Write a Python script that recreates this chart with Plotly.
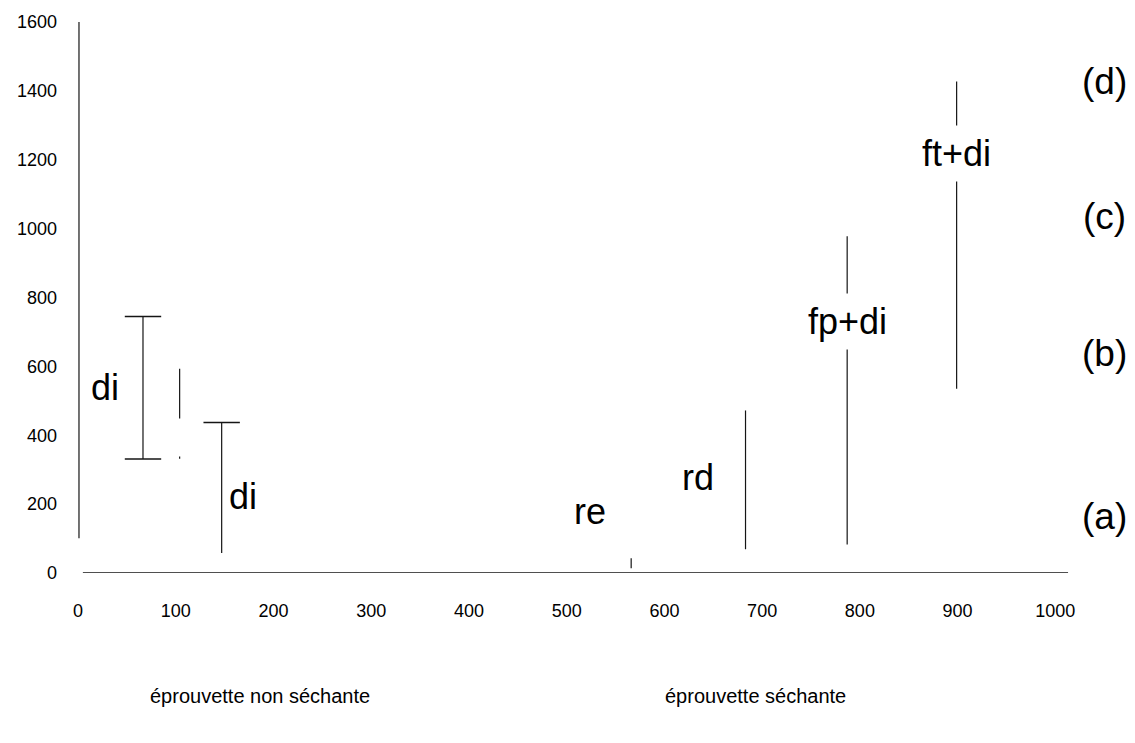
import plotly.graph_objects as go

# ---- data ----
seg_x = [1, 66.5, 104, 104, 147, 566, 683, 787, 899]
seg_low = [101, 331, 449, 332, 58, 14, 69, 83, 535]
seg_high = [1600, 745, 593, 338, 437, 43, 472, 978, 1427]

cap_x = [66.5, 66.5, 147]
cap_y = [745, 331, 437]

base_x = [5, 1013]
base_y = [0, 0]

label_text = ["di", "di", "re", "rd", "fp+di", "ft+di"]
label_x = [27.6, 169, 524, 634, 787, 899]
label_y = [538, 222, 178, 276, 729, 1217]
label_mask = [False, False, False, False, True, True]

mode_text = ["(a)", "(b)", "(c)", "(d)"]
mode_x = [1050, 1050, 1050, 1050]
mode_y = [164, 636, 1036, 1427]

group_text = ["éprouvette non séchante", "éprouvette séchante"]
group_x = [186, 693]
group_y = [-357, -357]

x_ticks = [0, 100, 200, 300, 400, 500, 600, 700, 800, 900, 1000]
y_ticks = [0, 200, 400, 600, 800, 1000, 1200, 1400, 1600]

X_RANGE = [0, 1015]
Y_RANGE = [0, 1600]

FONT = "Liberation Sans, Arial, Helvetica, sans-serif"
INK = "#151515"


def xp(v):
    return (v - X_RANGE[0]) / (X_RANGE[1] - X_RANGE[0])


def yp(v):
    return (v - Y_RANGE[0]) / (Y_RANGE[1] - Y_RANGE[0])


# build segment trace
xs, ys = [], []
for x, lo, hi in zip(seg_x, seg_low, seg_high):
    xs += [x, x, None]
    ys += [lo, hi, None]

fig = go.Figure()
fig.add_trace(go.Scatter(x=base_x, y=base_y, mode="lines",
                         line=dict(color=INK, width=1.3), hoverinfo="skip"))
fig.add_trace(go.Scatter(x=xs, y=ys, mode="lines",
                         line=dict(color=INK, width=1.2), hoverinfo="skip"))
fig.add_trace(go.Scatter(x=cap_x, y=cap_y, mode="markers",
                         marker=dict(symbol="line-ew", size=26,
                                     line=dict(color=INK, width=1.5)),
                         hoverinfo="skip"))

for t, x, y, m in zip(label_text, label_x, label_y, label_mask):
    fig.add_annotation(x=x, y=y, text=t, showarrow=False,
                       xanchor="center", yanchor="middle",
                       font=dict(family=FONT, size=36, color="#000"),
                       bgcolor="white" if m else "rgba(0,0,0,0)",
                       borderpad=7 if m else 0)

for t, x, y in zip(mode_text, mode_x, mode_y):
    fig.add_annotation(x=xp(x), y=yp(y), xref="paper", yref="paper",
                       xanchor="center", yanchor="middle",
                       text=t, showarrow=False,
                       font=dict(family=FONT, size=37, color="#000"))

for t, x, y in zip(group_text, group_x, group_y):
    fig.add_annotation(x=xp(x), y=yp(y), xref="paper", yref="paper",
                       xanchor="center", yanchor="middle",
                       text=t, showarrow=False,
                       font=dict(family=FONT, size=20, color="#000"))

fig.update_layout(
    width=1135, height=743,
    margin=dict(l=78, r=65, t=17, b=170),
    plot_bgcolor="white", paper_bgcolor="white",
    showlegend=False,
    font=dict(family=FONT, color="#000"),
)
fig.update_xaxes(range=X_RANGE, tickvals=x_ticks, ticktext=[str(v) for v in x_ticks],
                 showgrid=False, zeroline=False, showline=False, ticks="",
                 ticklabelstandoff=25, tickfont=dict(size=18, family=FONT, color="#000"))
fig.update_yaxes(range=Y_RANGE, tickvals=y_ticks, ticktext=[str(v) for v in y_ticks],
                 showgrid=False, zeroline=False, showline=False, ticks="",
                 ticklabelstandoff=20, tickfont=dict(size=18, family=FONT, color="#000"))

fig.write_html("out.html")
